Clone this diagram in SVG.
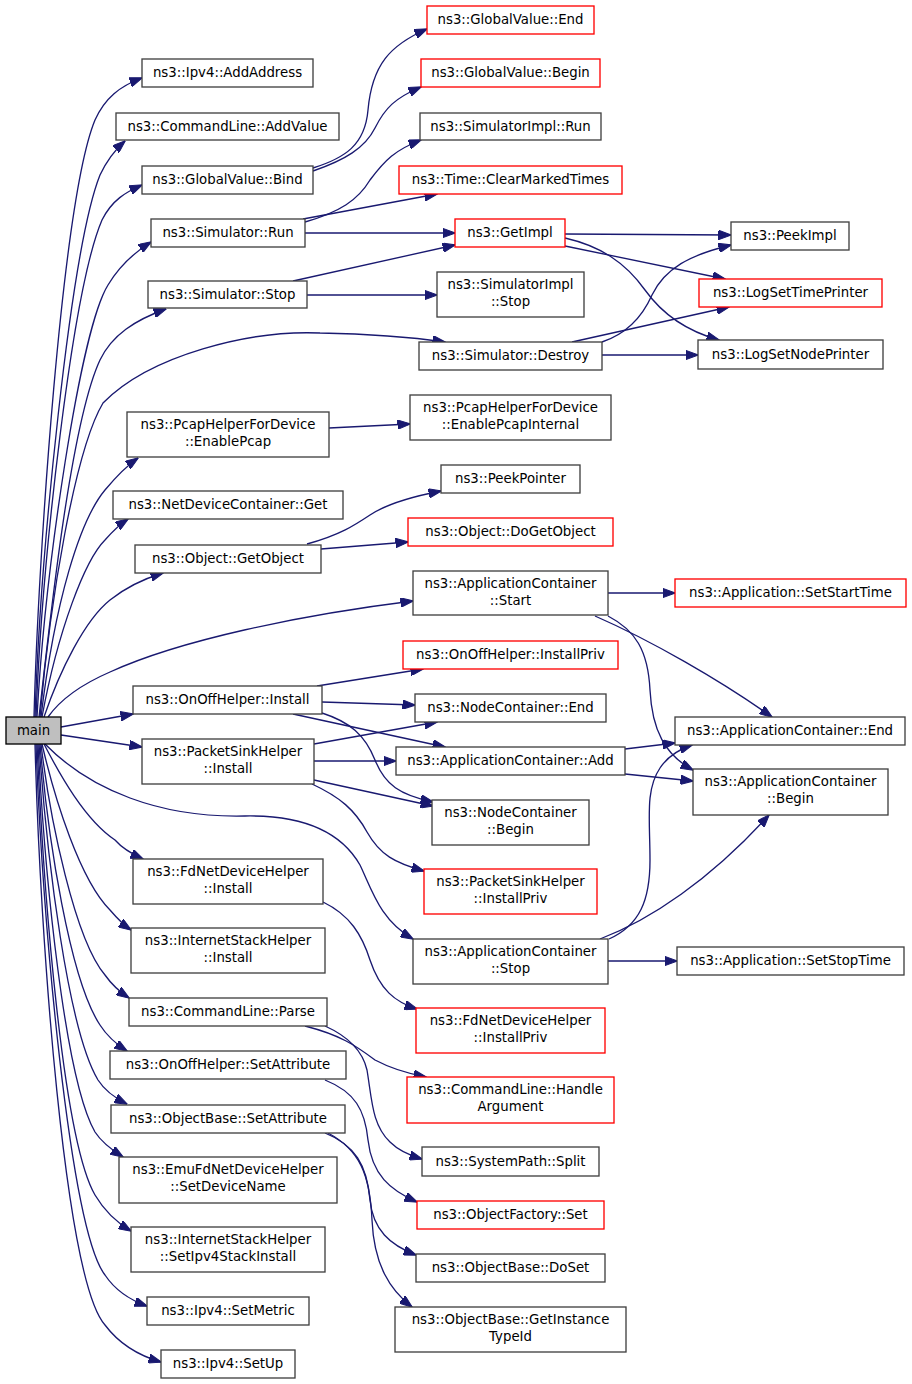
<svg xmlns="http://www.w3.org/2000/svg" width="912" height="1384" viewBox="0 0 912 1384">
<style>
.n rect{fill:#fff;stroke:#404040;stroke-width:1.33}
.n.r rect{stroke:#ff0000}
.n.m rect{fill:#bfbfbf;stroke:#000}
text{font-family:"DejaVu Sans",sans-serif;font-size:13.3px;text-anchor:middle;fill:#000}
#edges path{fill:none;stroke:#191970;stroke-width:1.33;marker-end:url(#a)}
</style>
<defs>
<marker id="a" markerUnits="userSpaceOnUse" viewBox="0 0 13 9.5" markerWidth="13" markerHeight="9.5" refX="12.5" refY="4.75" orient="auto"><path d="M0,0 L13,4.75 L0,9.5z" fill="#191970" stroke="#191970" stroke-width="1"/></marker>
</defs>
<rect width="912" height="1384" fill="#fff"/>
<g id="edges">
<path d="M34,717 C38,560 62,200 95,120 C105,98 120,86 142,78"/>
<path d="M35,717 C40,560 70,250 100,175 C108,158 116,149 125,141"/>
<path d="M36,717 C42,560 72,290 102,220 C112,200 126,192 142,185"/>
<path d="M37,717 C45,570 80,330 108,285 C120,265 135,252 151,242"/>
<path d="M39,717 C52,600 72,420 100,360 C112,335 135,320 166,309"/>
<path d="M40,717 C50,600 75,450 103,403 C150,355 250,330 320,333 C370,334 410,337 445,342"/>
<path d="M41,717 C55,600 80,520 105,490 C115,478 125,467 138,458"/>
<path d="M42,717 C58,630 85,560 105,540 C112,532 119,525 128,519"/>
<path d="M44,717 C60,670 85,620 110,600 C125,588 140,580 163,573"/>
<path d="M48,717 C60,700 80,685 110,672 C180,640 300,615 413,601"/>
<path d="M61,727 L133,714"/>
<path d="M61,735 L142,747"/>
<path d="M45,744 C90,790 160,818 245,816 C300,815 340,830 360,865 C372,890 380,920 413,939"/>
<path d="M44,744 C60,775 85,820 115,840 C122,848 132,854 143,859"/>
<path d="M42,744 C55,800 80,880 110,910 C116,917 122,924 131,930"/>
<path d="M41,744 C50,820 75,940 105,975 C112,985 120,992 129,998"/>
<path d="M40,744 C48,840 70,980 100,1025 C107,1036 116,1044 127,1051"/>
<path d="M39,744 C47,860 68,1030 98,1080 C105,1091 115,1098 127,1104"/>
<path d="M38,744 C45,880 65,1080 95,1132 C102,1143 112,1150 123,1157"/>
<path d="M37,744 C44,900 63,1140 95,1195 C105,1212 116,1222 131,1231"/>
<path d="M36,744 C42,920 70,1230 105,1275 C115,1290 130,1300 147,1306"/>
<path d="M35,744 C40,940 65,1280 105,1325 C120,1345 140,1356 161,1362"/>
<path d="M313,168 C345,158 365,145 368,110 C372,65 390,45 427,29"/>
<path d="M313,171 C345,160 365,148 375,128 C385,108 395,98 421,87"/>
<path d="M305,222 C340,212 358,200 370,180 C385,160 395,150 421,140"/>
<path d="M303,219 L437,194"/>
<path d="M305,233 L455,233"/>
<path d="M293,281 L455,245"/>
<path d="M307,295 L437,295"/>
<path d="M565,234 L731,235"/>
<path d="M565,246 L725,279"/>
<path d="M565,238 C600,246 625,262 645,290 C665,318 690,332 719,340"/>
<path d="M602,342 C620,336 640,322 652,295 C665,268 690,255 731,245"/>
<path d="M572,342 L729,307"/>
<path d="M602,355 L698,355"/>
<path d="M329,428 L410,424"/>
<path d="M307,544 C340,535 355,525 370,515 C385,505 405,498 441,491"/>
<path d="M321,549 L408,542"/>
<path d="M608,593 L675,593"/>
<path d="M595,616 C650,640 720,680 772,717"/>
<path d="M608,616 C635,630 648,650 650,690 C652,730 665,755 693,770"/>
<path d="M317,686 L423,669"/>
<path d="M322,702 L415,705"/>
<path d="M293,714 L445,747"/>
<path d="M322,713 C350,722 365,735 375,760 C385,785 400,795 433,802"/>
<path d="M314,744 L437,722"/>
<path d="M314,761 L396,761"/>
<path d="M314,780 L433,806"/>
<path d="M312,784 C340,797 355,810 367,832 C380,855 395,863 424,871"/>
<path d="M625,749 L675,743"/>
<path d="M625,774 L693,781"/>
<path d="M609,939 C640,925 650,900 650,860 C650,820 645,790 660,768 C668,756 680,749 692,745"/>
<path d="M600,939 C650,920 710,880 769,815"/>
<path d="M608,961 L677,961"/>
<path d="M323,902 C350,915 362,935 370,960 C380,990 395,1002 417,1009"/>
<path d="M305,1026 C340,1035 355,1045 375,1060 C390,1068 405,1073 426,1077"/>
<path d="M325,1026 C345,1035 362,1048 367,1070 C372,1100 372,1125 390,1142 C398,1150 408,1155 422,1159"/>
<path d="M325,1080 C355,1092 365,1110 368,1140 C372,1175 390,1190 417,1202"/>
<path d="M325,1133 C355,1145 367,1165 370,1200 C373,1230 390,1245 416,1255"/>
<path d="M328,1133 C360,1150 370,1175 372,1220 C374,1265 390,1290 412,1307"/>
</g>
<g id="main" class="n m"><rect x="6" y="717" width="55" height="27"/><text x="33.5" y="735">main</text></g>
<g id="addaddress" class="n"><rect x="142" y="59" width="171" height="28"/><text x="227.5" y="77">ns3::Ipv4::AddAddress</text></g>
<g id="addvalue" class="n"><rect x="116" y="113" width="223" height="27"/><text x="227.5" y="131">ns3::CommandLine::AddValue</text></g>
<g id="bind" class="n"><rect x="142" y="166" width="171" height="28"/><text x="227.5" y="184">ns3::GlobalValue::Bind</text></g>
<g id="simrun" class="n"><rect x="151" y="219" width="154" height="28"/><text x="228" y="237">ns3::Simulator::Run</text></g>
<g id="simstop" class="n"><rect x="148" y="281" width="159" height="27"/><text x="227.5" y="298.5">ns3::Simulator::Stop</text></g>
<g id="destroy" class="n"><rect x="419" y="342" width="183" height="28"/><text x="510.5" y="360">ns3::Simulator::Destroy</text></g>
<g id="gvend" class="n r"><rect x="427" y="6" width="167" height="28"/><text x="510.5" y="24">ns3::GlobalValue::End</text></g>
<g id="gvbegin" class="n r"><rect x="421" y="59" width="179" height="28"/><text x="510.5" y="77">ns3::GlobalValue::Begin</text></g>
<g id="simimplrun" class="n"><rect x="420" y="113" width="181" height="27"/><text x="510.5" y="130.5">ns3::SimulatorImpl::Run</text></g>
<g id="clearmarked" class="n r"><rect x="399" y="166" width="223" height="28"/><text x="510.5" y="184">ns3::Time::ClearMarkedTimes</text></g>
<g id="getimpl" class="n r"><rect x="455" y="219" width="110" height="28"/><text x="510" y="237">ns3::GetImpl</text></g>
<g id="simimplstop" class="n"><rect x="437" y="272" width="147" height="45"/><text x="510.5" y="289">ns3::SimulatorImpl</text><text x="510.5" y="306">::Stop</text></g>
<g id="peekimpl" class="n"><rect x="731" y="222" width="118" height="28"/><text x="790" y="240">ns3::PeekImpl</text></g>
<g id="logsettimeprinter" class="n r"><rect x="699" y="279" width="183" height="28"/><text x="790.5" y="297">ns3::LogSetTimePrinter</text></g>
<g id="logsetnodeprinter" class="n"><rect x="698" y="340" width="185" height="29"/><text x="790.5" y="358.5">ns3::LogSetNodePrinter</text></g>
<g id="enablepcap" class="n"><rect x="127" y="412" width="202" height="45"/><text x="228" y="429">ns3::PcapHelperForDevice</text><text x="228" y="446">::EnablePcap</text></g>
<g id="enablepcapinternal" class="n"><rect x="410" y="395" width="201" height="45"/><text x="510.5" y="412">ns3::PcapHelperForDevice</text><text x="510.5" y="429">::EnablePcapInternal</text></g>
<g id="ndcget" class="n"><rect x="113" y="491" width="230" height="28"/><text x="228" y="509">ns3::NetDeviceContainer::Get</text></g>
<g id="getobject" class="n"><rect x="135" y="545" width="186" height="28"/><text x="228" y="563">ns3::Object::GetObject</text></g>
<g id="peekpointer" class="n"><rect x="441" y="465" width="139" height="28"/><text x="510.5" y="483">ns3::PeekPointer</text></g>
<g id="dogetobject" class="n r"><rect x="408" y="518" width="205" height="28"/><text x="510.5" y="536">ns3::Object::DoGetObject</text></g>
<g id="acstart" class="n"><rect x="413" y="571" width="195" height="44"/><text x="510.5" y="588">ns3::ApplicationContainer</text><text x="510.5" y="605">::Start</text></g>
<g id="setstarttime" class="n r"><rect x="675" y="579" width="231" height="28"/><text x="790.5" y="597">ns3::Application::SetStartTime</text></g>
<g id="onoffinstall" class="n"><rect x="133" y="686" width="189" height="28"/><text x="227.5" y="704">ns3::OnOffHelper::Install</text></g>
<g id="onoffinstallpriv" class="n r"><rect x="403" y="641" width="215" height="28"/><text x="510.5" y="659">ns3::OnOffHelper::InstallPriv</text></g>
<g id="ncend" class="n"><rect x="415" y="694" width="191" height="28"/><text x="510.5" y="712">ns3::NodeContainer::End</text></g>
<g id="psinstall" class="n"><rect x="142" y="739" width="172" height="45"/><text x="228" y="756">ns3::PacketSinkHelper</text><text x="228" y="773">::Install</text></g>
<g id="acadd" class="n"><rect x="396" y="747" width="229" height="28"/><text x="510.5" y="765">ns3::ApplicationContainer::Add</text></g>
<g id="acend" class="n"><rect x="675" y="717" width="230" height="28"/><text x="790" y="735">ns3::ApplicationContainer::End</text></g>
<g id="acbegin" class="n"><rect x="693" y="769" width="195" height="46"/><text x="790.5" y="786">ns3::ApplicationContainer</text><text x="790.5" y="803">::Begin</text></g>
<g id="ncbegin" class="n"><rect x="432" y="800" width="157" height="45"/><text x="510.5" y="817">ns3::NodeContainer</text><text x="510.5" y="834">::Begin</text></g>
<g id="psinstallpriv" class="n r"><rect x="424" y="869" width="173" height="45"/><text x="510.5" y="886">ns3::PacketSinkHelper</text><text x="510.5" y="903">::InstallPriv</text></g>
<g id="fdinstall" class="n"><rect x="133" y="859" width="190" height="45"/><text x="228" y="876">ns3::FdNetDeviceHelper</text><text x="228" y="893">::Install</text></g>
<g id="acstop" class="n"><rect x="413" y="939" width="195" height="45"/><text x="510.5" y="956">ns3::ApplicationContainer</text><text x="510.5" y="973">::Stop</text></g>
<g id="setstoptime" class="n"><rect x="677" y="947" width="227" height="28"/><text x="790.5" y="965">ns3::Application::SetStopTime</text></g>
<g id="ishinstall" class="n"><rect x="131" y="928" width="194" height="45"/><text x="228" y="945">ns3::InternetStackHelper</text><text x="228" y="962">::Install</text></g>
<g id="fdinstallpriv" class="n r"><rect x="416" y="1008" width="189" height="45"/><text x="510.5" y="1025">ns3::FdNetDeviceHelper</text><text x="510.5" y="1042">::InstallPriv</text></g>
<g id="clparse" class="n"><rect x="129" y="998" width="198" height="28"/><text x="228" y="1016">ns3::CommandLine::Parse</text></g>
<g id="onoffsetattr" class="n"><rect x="110" y="1051" width="236" height="28"/><text x="228" y="1069">ns3::OnOffHelper::SetAttribute</text></g>
<g id="handlearg" class="n r"><rect x="407" y="1077" width="207" height="46"/><text x="510.5" y="1094">ns3::CommandLine::Handle</text><text x="510.5" y="1111">Argument</text></g>
<g id="obsetattr" class="n"><rect x="111" y="1105" width="234" height="28"/><text x="228" y="1123">ns3::ObjectBase::SetAttribute</text></g>
<g id="split" class="n"><rect x="422" y="1147" width="177" height="29"/><text x="510.5" y="1165.5">ns3::SystemPath::Split</text></g>
<g id="emusetdev" class="n"><rect x="119" y="1157" width="218" height="46"/><text x="228" y="1174">ns3::EmuFdNetDeviceHelper</text><text x="228" y="1191">::SetDeviceName</text></g>
<g id="ofset" class="n r"><rect x="417" y="1201" width="187" height="28"/><text x="510.5" y="1219">ns3::ObjectFactory::Set</text></g>
<g id="setipv4stack" class="n"><rect x="131" y="1227" width="194" height="45"/><text x="228" y="1244">ns3::InternetStackHelper</text><text x="228" y="1261">::SetIpv4StackInstall</text></g>
<g id="doset" class="n"><rect x="416" y="1254" width="189" height="28"/><text x="510.5" y="1272">ns3::ObjectBase::DoSet</text></g>
<g id="setmetric" class="n"><rect x="147" y="1297" width="162" height="28"/><text x="228" y="1315">ns3::Ipv4::SetMetric</text></g>
<g id="getinsttypeid" class="n"><rect x="395" y="1307" width="231" height="45"/><text x="510.5" y="1324">ns3::ObjectBase::GetInstance</text><text x="510.5" y="1341">TypeId</text></g>
<g id="setup" class="n"><rect x="161" y="1350" width="134" height="28"/><text x="228" y="1368">ns3::Ipv4::SetUp</text></g>
</svg>
